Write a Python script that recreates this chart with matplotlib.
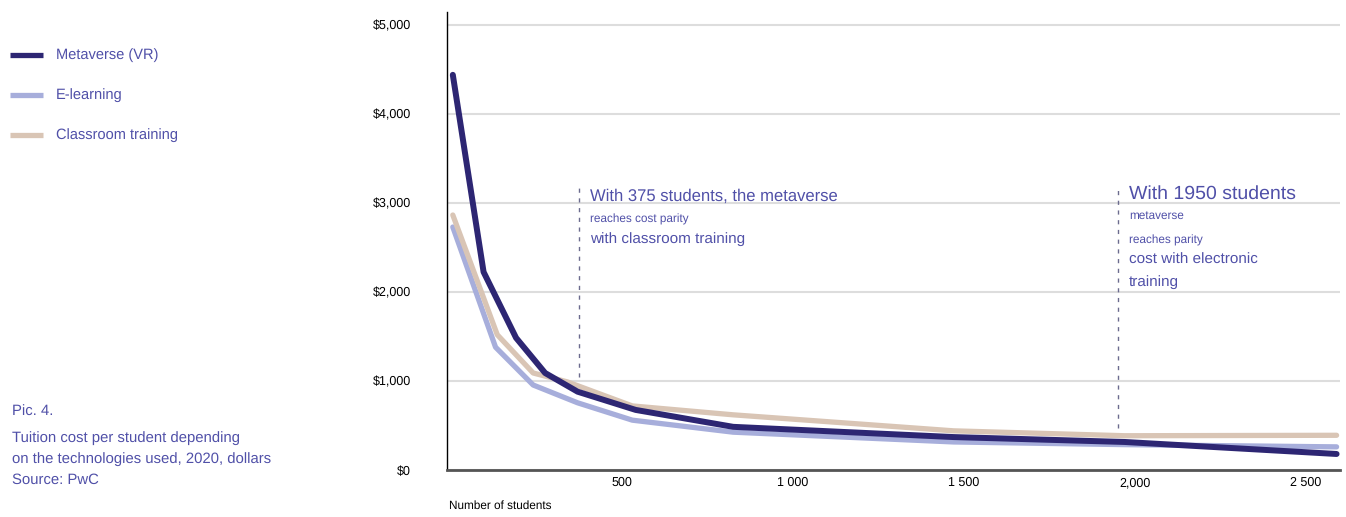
import matplotlib.pyplot as plt
from matplotlib.lines import Line2D

plt.rcParams['font.family'] = ['Liberation Sans', 'DejaVu Sans']
plt.rcParams['text.hinting'] = 'no_hinting'

# cost per student, dollars, by number of students
students_vr = [5, 95, 190, 275, 370, 540, 825, 1470, 1970, 2590]
cost_vr = [4440, 2225, 1485, 1090, 880, 675, 485, 370, 315, 180]

students_el = [5, 130, 240, 370, 530, 825, 1470, 1970, 2590]
cost_el = [2730, 1380, 955, 755, 560, 425, 315, 285, 260]

students_cl = [5, 135, 240, 340, 530, 825, 1470, 1970, 2590]
cost_cl = [2865, 1520, 1090, 990, 720, 620, 440, 385, 390]

series_names = ['Metaverse (VR)', 'E-learning', 'Classroom training']
series_colors = ['#2d2673', '#a7aedb', '#d9c5b5']

y_ticks = [0, 1000, 2000, 3000, 4000, 5000]
y_labels = ['$0', '$1,000', '$2,000', '$3,000', '$4,000', '$5,000']
x_ticks = [500, 1000, 1500, 2000, 2500]
x_labels = ['500', '1 000', '1 500', '2,000', '2 500']

parity_students = [375, 1950]
parity_span = [(1050, 3180), (470, 3180)]

TXT = '#5050a8'
W, H = 1346, 517

fig = plt.figure(figsize=(W / 100, H / 100), dpi=100)
ax = fig.add_axes([447 / W, 47 / H, 893 / W, 458 / H])

ax.plot(students_el, cost_el, color=series_colors[1], lw=3.8,
        solid_capstyle='round', solid_joinstyle='round', zorder=3)
ax.plot(students_cl, cost_cl, color=series_colors[2], lw=3.8,
        solid_capstyle='round', solid_joinstyle='round', zorder=3)
ax.plot(students_vr, cost_vr, color=series_colors[0], lw=4.3,
        solid_capstyle='round', solid_joinstyle='round', zorder=4)

ax.set_xlim(-12, 2600)
ax.set_ylim(0, 5146)
ax.set_yticks(y_ticks, y_labels)
ax.set_xticks(x_ticks, x_labels)
ax.tick_params(axis='both', length=0, labelsize=9, colors='black')
ax.tick_params(axis='y', pad=26)
ax.tick_params(axis='x', pad=5)
ax.yaxis.grid(True, color='#dddddd', lw=1.5)
ax.set_axisbelow(True)
for side in ('top', 'right'):
    ax.spines[side].set_visible(False)
ax.spines['left'].set_color('black')
ax.spines['left'].set_linewidth(1.0)
ax.spines['bottom'].set_color('#555555')
ax.spines['bottom'].set_linewidth(2.0)

# parity markers
for x, (y0, y1) in zip(parity_students, parity_span):
    ax.plot([x, x], [y0, y1], color='#6b6b8e', lw=1.0, dashes=(3, 4), zorder=2)

def note(x, y, s, size):
    ax.annotate(s, xy=(x, y), xytext=(8, 0), textcoords='offset points',
                ha='left', va='center', fontsize=size, color=TXT)

note(parity_students[0], 3079, 'With 375 students, the metaverse', 12)
note(parity_students[0], 2820, 'reaches cost parity', 8.5)
note(parity_students[0], 2596, 'with classroom training', 11)
note(parity_students[1], 3101, 'With 1950 students', 14)
note(parity_students[1], 2854, 'metaverse', 8.5)
note(parity_students[1], 2584, 'reaches parity', 8.5)
note(parity_students[1], 2360, 'cost with electronic', 11)
note(parity_students[1], 2112, 'training', 11)

fig.text(449 / W, 1 - 506 / H, 'Number of students', fontsize=8.5,
         ha='left', va='center', color='black')

# legend on the left
for i, (name, color) in enumerate(zip(series_names, series_colors)):
    y = 1 - (55 + 40 * i) / H
    fig.add_artist(Line2D([10 / W, 43 / W], [y, y], color=color, lw=3.8,
                          solid_capstyle='butt'))
    fig.text(56 / W, y, name, fontsize=10.5, color=TXT, ha='left', va='center')

caption = [
    (412, 'Pic. 4.'),
    (438, 'Tuition cost per student depending'),
    (459, 'on the technologies used, 2020, dollars'),
    (480, 'Source: PwC'),
]
for py, s in caption:
    fig.text(12 / W, 1 - py / H, s, fontsize=10.7, color=TXT, ha='left', va='center')

fig.savefig('out.png', dpi=100, facecolor='white')
